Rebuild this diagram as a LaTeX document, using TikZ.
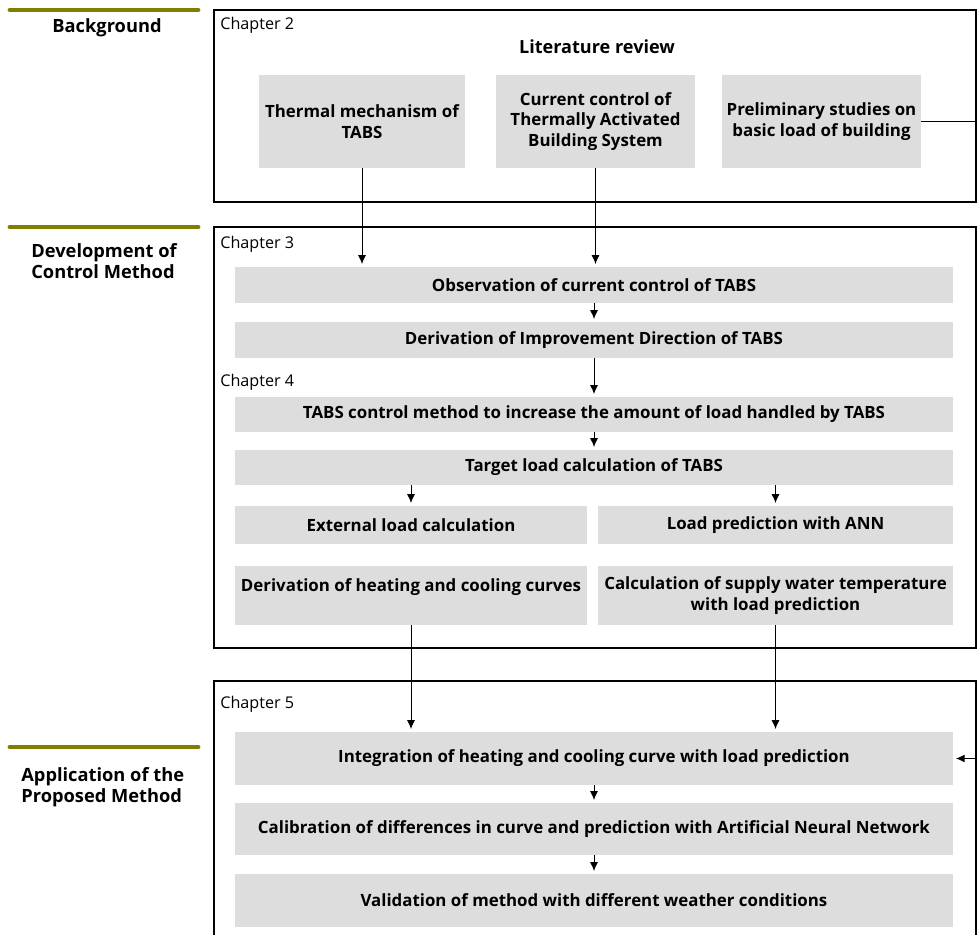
\documentclass[tikz,border=0pt]{standalone}
\usepackage{fontspec}
\setmainfont{Open Sans}
\usetikzlibrary{positioning, arrows.meta, calc}
\definecolor{boxgray}{RGB}{221,221,221}
\definecolor{olivebar}{RGB}{128,128,0}

\tikzset{
  stepbox/.style={fill=boxgray, font=\bfseries\fontsize{9.6}{11.9}\selectfont, align=center, inner sep=0pt},
  widebox/.style={stepbox, minimum width=14.36cm},
  chapframe/.style={draw=black, line width=1.1pt},
  chaplabel/.style={anchor=west, font=\fontsize{9.2}{11}\selectfont, inner sep=0pt},
  partbar/.style={olivebar, line width=2.8pt, line cap=round},
  partlabel/.style={font=\bfseries\fontsize{10.4}{12.2}\selectfont, align=left, inner sep=0pt},
  flow/.style={-{Latex[length=5pt,width=4.5pt]}, line width=0.55pt, shorten >=1.5pt},
}

\begin{document}
\begin{tikzpicture}[x=0.02cm, y=-0.02cm]
\useasboundingbox (0,0) rectangle (977,935);
\clip (0,0) rectangle (977,935);

% part bars and labels on the left
\draw[partbar] (10,10) -- (198,10);
\draw[partbar] (10,227) -- (198,227);
\draw[partbar] (10,747) -- (198,747);
\node[partlabel] (bg) at (107,28) {Background};
\node[partlabel, anchor=west] (dev) at (31,261) {Development of\\Control Method};
\node[partlabel, anchor=west] (app) at (21,787) {Application of the\\Proposed Method};

% chapter frames
\draw[chapframe] (214,10) rectangle (976,202);
\draw[chapframe] (214,227) rectangle (976,648);
\draw[chapframe] (214,681) rectangle (976,960);
\node[chaplabel] (ch2) at (220,25) {Chapter 2};
\node[chaplabel] (ch3) at (220,244) {Chapter 3};
\node[chaplabel] (ch4) at (220,382) {Chapter 4};
\node[chaplabel] (ch5) at (220,704) {Chapter 5};

% Chapter 2
\node[font=\bfseries\fontsize{10.3}{12}\selectfont] (litrev) at (597,47) {Literature review};
\node[stepbox, minimum width=4.12cm, minimum height=1.86cm] (thermal) at (362,121.5) {Thermal mechanism of\\TABS};
\node[stepbox, minimum width=3.98cm, minimum height=1.86cm] (current) at (595.5,121.5) {Current control of\\Thermally Activated\\Building System};
\node[stepbox, minimum width=3.98cm, minimum height=1.86cm] (prelim) at (821.5,121.5) {Preliminary studies on\\basic load of building};

% Chapter 3 and 4
\node[widebox, minimum height=0.72cm] (observe) at (594,285) {Observation of current control of TABS};
\node[widebox, minimum height=0.72cm] (improve) at (594,340) {Derivation of Improvement Direction of TABS};
\node[widebox, minimum height=0.70cm] (method) at (594,414.5) {TABS control method to increase the amount of load handled by TABS};
\node[widebox, minimum height=0.70cm] (target) at (594,467.5) {Target load calculation of TABS};
\node[stepbox, minimum width=7.04cm, minimum height=0.76cm] (external) at (411,525) {External load calculation};
\node[stepbox, minimum width=7.10cm, minimum height=0.76cm] (ann) at (775.5,525) {Load prediction with ANN};
\node[stepbox, minimum width=7.04cm, minimum height=1.18cm] (curves) at (411,595.5) {Derivation of heating and cooling curves\\\mbox{}};
\node[stepbox, minimum width=7.10cm, minimum height=1.18cm] (supply) at (775.5,595.5) {Calculation of supply water temperature\\with load prediction};

% Chapter 5
\node[widebox, minimum height=1.06cm] (integrate) at (594,758.5) {Integration of heating and cooling curve with load prediction};
\node[widebox, minimum height=1.04cm] (calib) at (594,829) {Calibration of differences in curve and prediction with Artificial Neural Network};
\node[widebox, minimum height=1.06cm] (valid) at (594,900.5) {Validation of method with different weather conditions};

% arrows
\draw[flow] (thermal.south) -- (thermal.south |- observe.north);
\draw[flow] (current.south) -- (current.south |- observe.north);
\draw[flow] (observe.south) -- (improve.north);
\draw[flow] (improve.south) -- (method.north);
\draw[flow] (method.south) -- (target.north);
\draw[flow] (external.north |- target.south) -- (external.north);
\draw[flow] (ann.north |- target.south) -- (ann.north);
\draw[flow] (curves.south) -- (curves.south |- integrate.north);
\draw[flow] (supply.south) -- (supply.south |- integrate.north);
\draw[flow] (integrate.south) -- (calib.north);
\draw[flow] (calib.south) -- (valid.north);

% feedback from preliminary studies
\coordinate (fb) at (990,400);
\draw[flow] (prelim.east) -- (prelim.east -| fb) -- (fb |- integrate.east) -- (integrate.east);
\end{tikzpicture}
\end{document}
